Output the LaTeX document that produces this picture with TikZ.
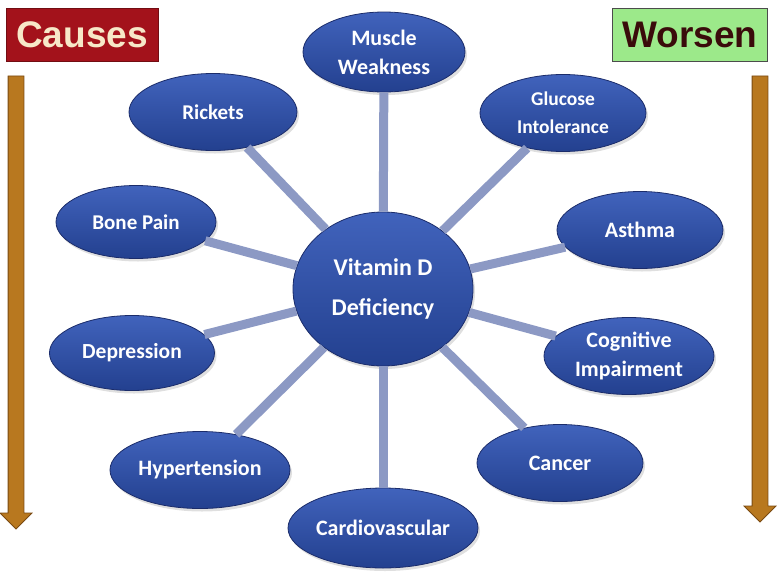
\documentclass[tikz,border=0pt]{standalone}
\usepackage{fontspec}
\setmainfont{Carlito}
\newfontfamily\headfont{Liberation Sans}
\usetikzlibrary{shapes.geometric,shapes.arrows,shadows}
\definecolor{ellblue}{HTML}{2E4DA2}
\definecolor{elltop}{HTML}{4163BC}
\definecolor{ellbot}{HTML}{23408F}
\definecolor{ellrim}{HTML}{1B2C6A}
\definecolor{spoke}{HTML}{8C99C4}
\definecolor{causered}{HTML}{A3121B}
\definecolor{causetext}{HTML}{F7E8C8}
\definecolor{worsengreen}{HTML}{9CE98A}
\definecolor{worsentext}{HTML}{3A0B0B}
\definecolor{arrowfill}{HTML}{B8781F}
\definecolor{arrowrim}{HTML}{7A4A12}

\begin{document}
\begin{tikzpicture}[
  x=1pt,y=-1pt,
  ell/.style={ellipse,draw=ellrim,line width=0.8pt,top color=elltop,bottom color=ellbot,
    text=white,align=center,inner sep=0pt,font=\bfseries\fontsize{22}{29}\selectfont,
    drop shadow={opacity=0.25,shadow xshift=2pt,shadow yshift=-3pt}},
  sat/.style={ell,minimum width=166,minimum height=77},
  hub/.style={ell,minimum width=180,minimum height=154,font=\bfseries\fontsize{24}{40}\selectfont},
  link/.style={spoke,line width=9pt},
  tag/.style={draw,line width=1pt,minimum width=152,minimum height=53,inner sep=0pt,
    font=\headfont\bfseries\fontsize{37}{37}\selectfont},
  bigarrow/.style={single arrow,draw=arrowrim,fill=arrowfill,line width=0.8pt,
    inner sep=7.5pt,single arrow head extend=8pt,shape border rotate=270}
]
  \useasboundingbox (0,0) rectangle (777,579);
  % hub and satellites
  \node[hub] (vd) at (383,289) {Vitamin D\\Deficiency};
  \node[sat,minimum width=162,minimum height=80] (mw) at (384,52) {Muscle\\Weakness};
  \node[sat,minimum width=168,font=\bfseries\fontsize{21}{29}\selectfont] (rk) at (213,112) {Rickets};
  \node[sat,font=\bfseries\fontsize{19.5}{28}\selectfont] (gi) at (563,113) {Glucose\\Intolerance};
  \node[sat,minimum width=160,minimum height=73,font=\bfseries\fontsize{21}{29}\selectfont] (bp) at (136,222) {Bone Pain};
  \node[sat] (as) at (640,230) {Asthma};
  \node[sat,minimum width=165,minimum height=75,font=\bfseries\fontsize{21.5}{29}\selectfont] (dp) at (132,353) {Depression};
  \node[sat,minimum width=170] (ci) at (629,356) {Cognitive\\Impairment};
  \node[sat,minimum width=180] (ht) at (200,470) {Hypertension};
  \node[sat] (cc) at (560,463) {Cancer};
  \node[sat,minimum width=190,minimum height=80] (cv) at (383,528) {Cardiovascular};
  % spokes
  \foreach \s in {mw,rk,gi,bp,as,dp,ci,ht,cc,cv}
    \draw[link] (vd) -- (\s);
  % side labels
  \node[tag,fill=causered,draw=causered!70!black,text=causetext] (causes) at (82,35) {Causes};
  \node[tag,fill=worsengreen,draw=black!70,text=worsentext,minimum width=155] (worsen) at (690,35) {Worsen};
  \node[bigarrow,minimum height=453] (down1) at (16,298.5) {};
  \node[bigarrow,minimum height=446] (down2) at (760,295) {};
\end{tikzpicture}
\end{document}
